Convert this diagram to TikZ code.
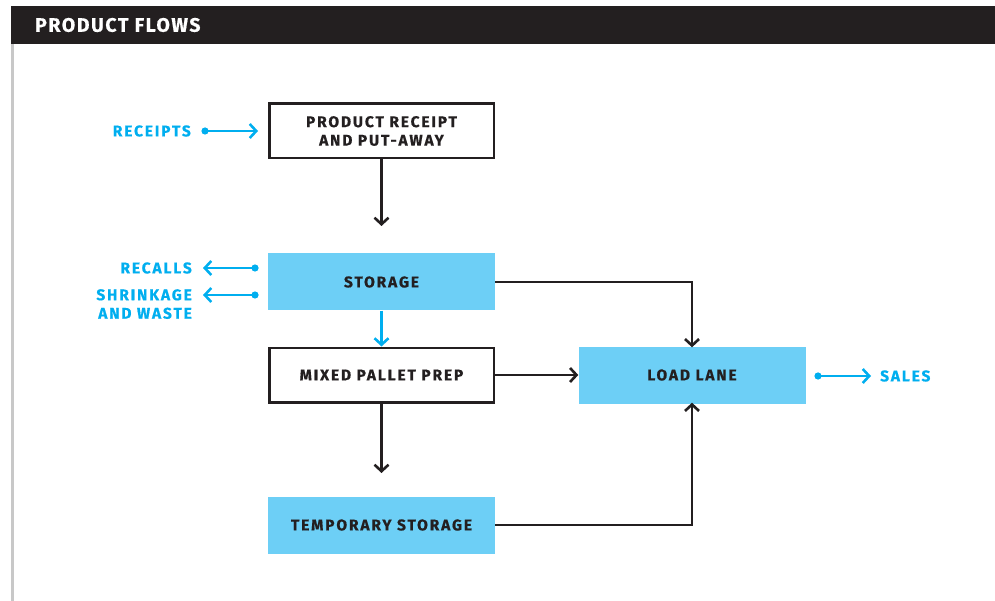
\documentclass[tikz,border=0pt]{standalone}
\usepackage{fontspec}
\setmainfont{Fira Sans}[LetterSpace=12, BoldFeatures={FakeBold=0.6}]
\newfontfamily\titlefont{Fira Sans}[LetterSpace=8, BoldFeatures={FakeBold=0.6}]
\usetikzlibrary{arrows.meta}
\definecolor{headbar}{HTML}{231F20}
\definecolor{flowblue}{HTML}{00AEEF}
\definecolor{boxblue}{HTML}{6DCFF6}
\definecolor{rule}{HTML}{C8C8C8}
\tikzset{
  every node/.style={font=\fontsize{15.5}{18.5}\selectfont\bfseries},
  plainbox/.style={draw=headbar, line width=2.5pt, fill=white, minimum width=224.5pt, minimum height=54.5pt, align=center, text=headbar},
  bluebox/.style={fill=boxblue, minimum width=227pt, minimum height=57pt, align=center, text=headbar},
  flow/.style={draw=headbar, line width=2.6pt, -{Straight Barb[length=6.5pt,width=14pt,line width=2.6pt]}},
  side/.style={draw=flowblue, line width=2.6pt, -{Straight Barb[length=6.5pt,width=14pt,line width=2.6pt]}},
  enddot/.style={fill=flowblue},
  sidelabel/.style={text=flowblue, align=right, inner sep=0pt},
}
\begin{document}
\begin{tikzpicture}[x=1pt, y=-1pt]
\useasboundingbox (0,0) rectangle (995,601);
% title bar and left rule
\fill[headbar] (11,6) rectangle (995,44);
\fill[rule] (11,44) rectangle (14,601);
\node[anchor=west, text=white, inner sep=0pt, font=\titlefont\fontsize{19.5}{22}\selectfont\bfseries] (title) at (35,25) {PRODUCT FLOWS};

% process boxes
\node[plainbox] (receipt) at (381.5,131) {PRODUCT RECEIPT\\AND PUT-AWAY};
\node[bluebox] (storage) at (381.5,282) {STORAGE};
\node[plainbox] (mixed) at (381.5,375) {MIXED PALLET PREP};
\node[bluebox] (temp) at (381.5,525) {TEMPORARY STORAGE};
\node[bluebox] (load) at (692,375) {LOAD LANE};

% internal flows
\coordinate (recEnd) at (381.5,226);
\coordinate (mixEnd) at (381.5,473);
\draw[flow] (receipt.south) -- (recEnd);
\draw[side] (storage.south) -- (mixed.north);
\draw[flow] (mixed.south) -- (mixEnd);
\draw[flow] (storage.east) -| ([yshift=-1pt]load.north);
\draw[flow] (mixed.east) -- (load.west);
\draw[flow] (temp.east) -| ([yshift=1pt]load.south);

% external flows: a dot at the source end, an open arrowhead at the other
\node[sidelabel, anchor=east] (receipts) at (191,131) {RECEIPTS};
\coordinate (rcDot) at (205,131);
\coordinate (rcTip) at (258,131);
\draw[side] (rcDot) -- (rcTip);
\fill[enddot] (rcDot) circle (3.6pt);

\node[sidelabel, anchor=east] (recalls) at (192,268) {RECALLS};
\coordinate (rlDot) at (255,268);
\coordinate (rlTip) at (203,268);
\draw[side] (rlDot) -- (rlTip);
\fill[enddot] (rlDot) circle (3.6pt);

\node[sidelabel, anchor=north east] (shrink) at (192,289) {SHRINKAGE\\AND WASTE};
\coordinate (skDot) at (255,295);
\coordinate (skTip) at (203,295);
\draw[side] (skDot) -- (skTip);
\fill[enddot] (skDot) circle (3.6pt);

\node[sidelabel, anchor=west] (sales) at (880,376) {SALES};
\coordinate (slDot) at (818,376);
\coordinate (slTip) at (871,376);
\draw[side] (slDot) -- (slTip);
\fill[enddot] (slDot) circle (3.6pt);
\end{tikzpicture}
\end{document}
